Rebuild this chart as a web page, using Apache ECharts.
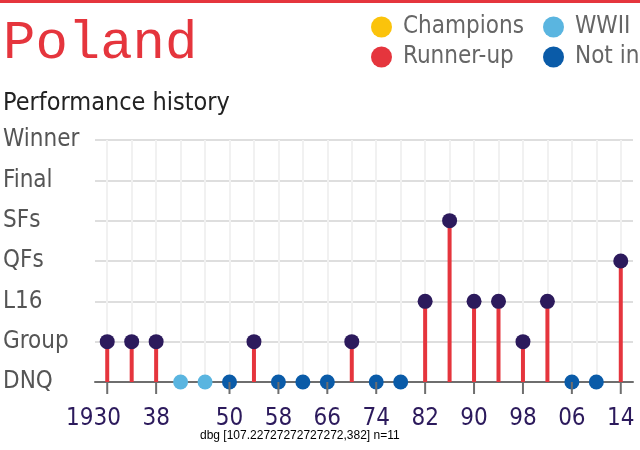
<!DOCTYPE html>
<html><head><meta charset="utf-8">
<script src="https://cdn.jsdelivr.net/npm/echarts@6/dist/echarts.min.js"></script>
<style>html,body{margin:0;padding:0;background:#fff}#c{width:640px;height:450px}</style>
</head><body><div id="c"></div>
<script>
const years = [1930,1934,1938,1942,1946,1950,1954,1958,1962,1966,1970,1974,1978,1982,1986,1990,1994,1998,2002,2006,2010,2014];
const yearLabels = {1930:'{h|19}30{s|19}',1938:'38',1950:'50',1958:'58',1966:'66',1974:'74',1982:'82',1990:'90',1998:'98',2006:'06',2014:'14'};
const stageLabels = ['DNQ','Group','L16','QFs','SFs','Final','Winner'];
const levels = [1,1,1,0,0,0,1,0,0,0,1,0,0,2,4,2,2,1,2,0,0,3];
const status = ['in','in','in','wwii','wwii','out','in','out','out','out','in','out','out','in','in','in','in','in','in','out','out','in'];

const FONT = "'Liberation Sans Narrow','DejaVu Sans Condensed',sans-serif";
const C = {red:'#e5353d', purple:'#2c1a5c', wwii:'#5ab5e0', out:'#0a5ba8', champ:'#fbc30b', grid:'#dedede', axis:'#6e6e6e'};

const labelled = (i) => yearLabels[years[i]] !== undefined;
const pick = s => years.map((y,i)=> status[i]===s ? [i, levels[i]] : null).filter(d=>d);
const chart = echarts.init(document.getElementById('c'), null, {renderer:'canvas'});
const legendText = {color:'#666', fontSize:24, fontFamily:FONT, padding:[0,0,0,6]};
const xFont = {color:C.purple, fontSize:24, fontFamily:FONT};
chart.setOption({
  animation:false,
  graphic:[{id:'topbar', type:'rect', left:0, top:0, shape:{width:640, height:3}, style:{fill:C.red}}],
  title:[
    {text:'Poland', left:-2, top:12, textStyle:{fontFamily:"'Liberation Mono',monospace", fontWeight:'normal', fontSize:54, color:C.red}},
    {text:'Performance history', left:-2, top:86, textStyle:{fontFamily:FONT, fontWeight:'normal', fontSize:25, color:'#222'}}
  ],
  legend:[
    {left:366, top:10, orient:'vertical', itemWidth:21, itemHeight:21, itemGap:6, icon:'circle', textStyle:legendText, data:['Champions','Runner-up'], selectedMode:false},
    {left:538, top:10, orient:'vertical', itemWidth:21, itemHeight:21, itemGap:6, icon:'circle', textStyle:legendText, data:['WWII','Not in'], selectedMode:false}
  ],
  grid:{left:95, right:7, top:140, bottom:68, containLabel:false},
  xAxis:{type:'category', data:years, boundaryGap:true,
    axisLine:{show:true, onZero:false, lineStyle:{color:C.axis, width:2}},
    axisTick:{show:false},
    axisLabel:{interval:0, formatter:v=>yearLabels[v] || '', ...xFont, margin:25,
      rich:{h:{...xFont}, s:{...xFont, color:'rgba(0,0,0,0)'}}},
    splitLine:{show:false}
  },
  yAxis:{type:'value', min:0, max:stageLabels.length-1, interval:1,
    axisLine:{show:false}, axisTick:{show:false},
    axisLabel:{formatter:v=>stageLabels[v], color:'#555', fontSize:24, fontFamily:FONT, align:'left', margin:92, padding:[0,0,4,0]},
    splitLine:{lineStyle:{color:C.grid, width:2}}
  },
  series:[
    {name:'Champions', type:'scatter', data:[], itemStyle:{color:C.champ, opacity:1}},
    {name:'Runner-up', type:'scatter', data:[], itemStyle:{color:C.red, opacity:1}},
    {name:'verticals', type:'line', data:[], z:0, silent:true,
      markLine:{z:0, silent:true, symbol:'none', label:{show:false}, lineStyle:{color:'#f1f1f1', width:2, type:'solid'},
        data: years.map(y=>({xAxis:String(y)}))}},
    {name:'stems', type:'bar', data:levels, barWidth:4, itemStyle:{color:C.red, opacity:1}, silent:true, z:3},
    {name:'Participated', type:'scatter', data:pick('in'), symbolSize:15, itemStyle:{color:C.purple, opacity:1}, z:5},
    {name:'WWII', type:'scatter', data:pick('wwii'), symbolSize:15, itemStyle:{color:C.wwii, opacity:1}, z:5},
    {name:'Not in', type:'scatter', data:pick('out'), symbolSize:15, itemStyle:{color:C.out, opacity:1}, z:5}
  ]
});
// axis ticks at labelled years, positioned through the chart's own scales
const tickEls = years.map((y,i)=>i).filter(labelled).map(i=>{
  const p = chart.convertToPixel({gridIndex:0}, [i, 0]);
  return {id:'tick'+i, type:'rect', z:100, silent:true, shape:{x:p[0]-1, y:p[1], width:2, height:12}, style:{fill:C.axis}};
});
const p0 = chart.convertToPixel({gridIndex:0}, [0, 0]);
chart.setOption({graphic:[
  {id:'topbar', type:'rect', left:0, top:0, shape:{width:640, height:3}, style:{fill:C.red}},
  ...tickEls,
  {id:'dbg', type:'text', left:200, top:430, z:100, style:{text:'dbg '+JSON.stringify(p0)+' n='+tickEls.length, fill:'#000', font:'12px sans-serif'}}
]});
</script></body></html>
